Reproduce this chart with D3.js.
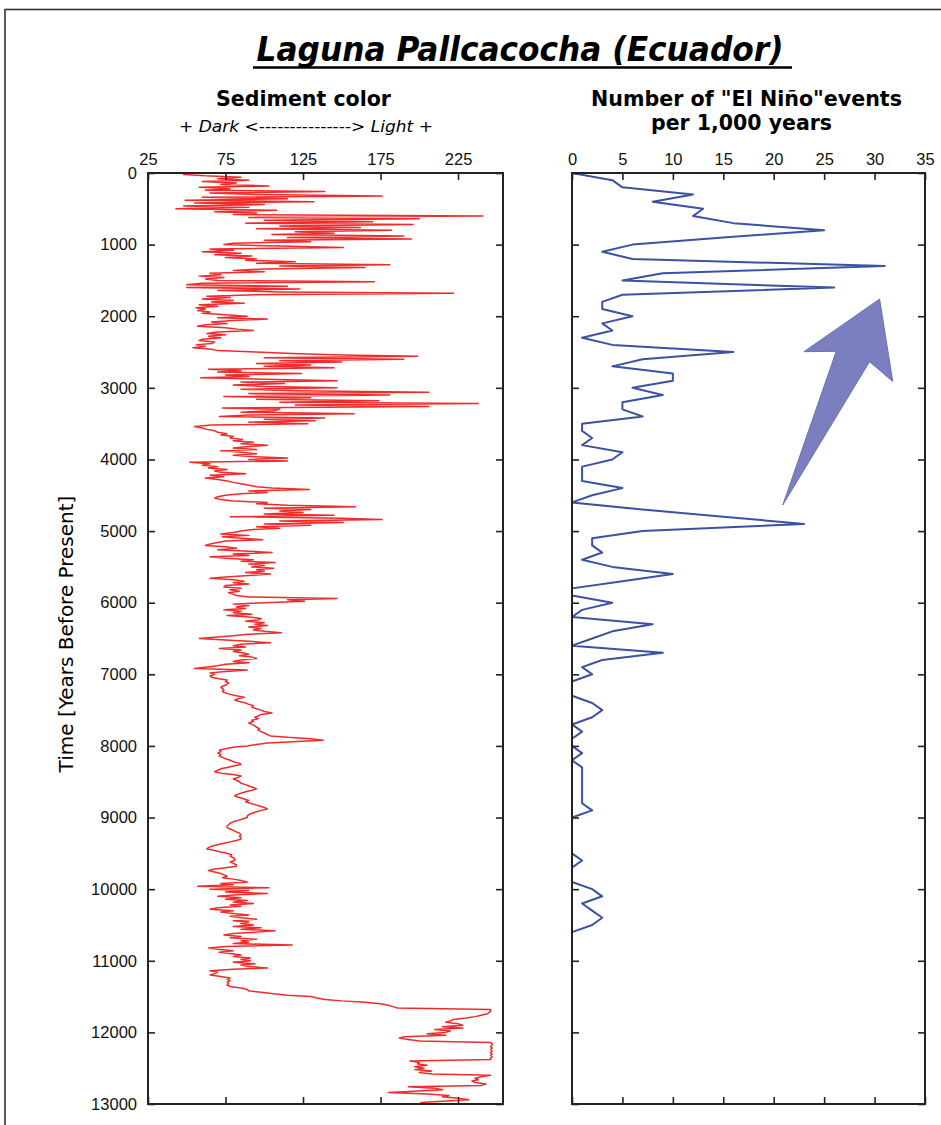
<!DOCTYPE html>
<html>
<head>
<meta charset="utf-8">
<script src="https://cdn.jsdelivr.net/npm/d3@7"></script>
<style>
  body { margin: 0; background: #fff; }
  .tick text { font-family: "Liberation Sans", Arial, sans-serif; font-size: 16.5px; fill: #111; }
  .tick line { stroke: #222; stroke-width: 1.6; }
  .head { font-family: "DejaVu Sans", sans-serif; fill: #000; }
</style>
</head>
<body>
<div id="main"></div>
<script>
// sediment colour sampled every 20 years, 0 .. 13000 BP
const sedimentYears = d3.range(0, 13001, 20);
const sedimentColor = [
  50,48,62,85,70,90,60,82,72,103, 58,78,62,139,65,95,176,60,115,49, 132,55,100,48,90,43,108,68,95,80, 241,90,200,100,170,88,196,110,162,95, 182,120,145,105,190,115,195,100,130,80,
  74,110,151,65,80,60,85,68,92,75, 95,88,120,95,181,110,165,100,80,100, 65,72,58,74,62,70,171,60,50,115, 50,123,70,110,222,95,63,78,60,80, 66,87,58,70,56,62,57,65,60,75,
  89,70,102,80,66,76,62,57,75,83, 93,70,63,75,64,72,60,58,68,66, 56,62,54,66,70,95,118,150,199,100, 190,110,150,95,130,100,145,64,85,70, 124,75,90,59,100,147,85,113,80,100,
  147,85,120,206,90,181,74,130,95,174, 110,238,120,206,73,110,106,85,158,90, 71,139,100,133,90,128,66,55,60,63, 68,70,76,72,80,78,86,80,93,85, 102,90,80,95,72,85,95,80,92,115,
  90,115,52,65,60,70,64,76,68,72, 88,65,74,62,70,76,80,85,90,95, 105,129,90,102,85,75,70,68,72,80, 102,95,115,159,100,130,110,125,100,145, 78,150,176,110,151,100,130,95,110,91,
  85,80,72,90,73,85,99,75,70,65, 62,75,82,70,90,105,80,90,65,75, 93,85,107,90,100,92,106,95,100,88, 104,90,75,65,80,87,80,90,75,74, 85,78,84,77,80,82,90,147,115,126,
  100,80,90,82,88,74,85,80,92,76, 90,98,96,88,100,94,102,90,98,93, 100,111,90,80,70,58,75,90,104,85, 80,88,71,85,80,86,90,84,92,95, 85,80,90,75,70,62,55,89,75,65,
  68,65,66,70,76,75,77,76,74,72, 73,74,73,75,78,82,87,83,81,84, 88,90,93,92,95,98,100,105,98,96, 94,96,92,93,90,92,94,95,97,96, 98,100,102,104,115,130,138,118,102,95,
  89,80,75,71,72,70,72,71,73,75, 78,80,84,85,80,76,72,70,68,72, 80,85,83,80,82,84,85,88,90,93, 95,92,88,85,82,81,84,87,90,88, 91,94,97,100,102,98,95,92,90,89,
  89,86,83,80,78,77,76,76,78,80, 82,84,85,84,85,85,82,78,74,70, 66,64,63,68,72,76,79,78,80,81, 81,78,80,82,82,75,68,64,68,72, 74,76,73,80,85,89,72,80,57,103,
  65,90,75,102,80,70,85,75,89,80, 93,78,85,70,65,80,72,80,90,78, 85,95,80,90,85,93,80,98,85,107, 95,80,74,85,78,95,85,90,80,118, 75,64,70,80,71,78,85,80,91,85,
  91,80,94,85,90,102,80,65,70,68, 65,72,78,76,78,76,77,76,78,85, 89,90,98,106,115,130,134,139,150,165, 175,180,183,186,246,246,245,244,240,236, 230,222,220,217,225,228,215,228,210,220,
  217,205,217,190,187,193,200,246,247,247, 246,247,246,247,246,247,246,247,246,246, 194,200,199,205,197,203,197,208,200,208, 246,240,236,238,234,236,243,240,193,210, 215,200,180,205,219,215,225,232,215,201,
  210
];

// El Nino events per 1,000 years, every 100 years
const ninoYears = d3.range(0, 13001, 100);
const ninoEvents = [
  0,4,5,12,8,13,12,16,25,15,
  6,3,6,31,9,5,26,5,3,3,
  6,3,4,1,4,16,7,4,10,10,
  6,9,5,5,7,1,1,2,1,5,
  4,1,1,1,5,2,0,7,15,23,
  7,2,2,3,1,4,10,5,0,0,
  4,1,0,8,4,2,0,9,3,1,
  2,0,0,0,2,3,2,0,1,0,
  0,1,0,1,1,1,1,1,1,2,
  0,0,0,0,0,0,1,0,0,0,
  2,3,1,2,3,2,0,0,0,0,
  0,0,0,0,0,0,0,0,0,0,
  0,0,0,0,0,0,0,0,0,0,
  0
];

const yearTicks = d3.range(0, 13001, 1000);
const colorTicks = [25, 75, 125, 175, 225];
const ninoTicks = [0, 5, 10, 15, 20, 25, 30, 35];

// arrow outline in (events, years)
const arrowOutline = [[30.5, 1760], [31.8, 2910], [29.5, 2635], [20.9, 4635], [26.2, 2490], [23.0, 2495]];

class Panel {
  constructor(svg, config) {
    this.svg = svg;
    this.config = config;
    this.g = svg.append('g');
    this.createScales();
  }

  createScales() {
    let c = this.config;
    this.xScale = d3.scaleLinear().domain(c.domain).range([c.left, c.right]);
    this.yScale = d3.scaleLinear().domain([0, 13000]).range([c.top, c.bottom]);
  }

  createAxis() {
    let c = this.config;
    let top = d3.axisTop(this.xScale).tickValues(c.ticks).tickSize(-7).tickSizeOuter(0).tickPadding(8);
    let bottom = d3.axisBottom(this.xScale).tickValues(c.ticks).tickSize(-7).tickSizeOuter(0).tickFormat('');
    let left = d3.axisLeft(this.yScale).tickValues(yearTicks).tickSize(-7).tickSizeOuter(0).tickPadding(11)
      .tickFormat(c.yLabels ? d3.format('d') : '');
    let right = d3.axisRight(this.yScale).tickValues(yearTicks).tickSize(-7).tickSizeOuter(0).tickFormat('');

    this.g.append('g').attr('transform', `translate(0,${c.top})`).call(top);
    this.g.append('g').attr('transform', `translate(0,${c.bottom})`).call(bottom);
    this.g.append('g').attr('transform', `translate(${c.left},0)`).call(left);
    this.g.append('g').attr('transform', `translate(${c.right},0)`).call(right);
    this.g.selectAll('.domain').remove();

    this.g.append('rect')
      .attr('x', c.left).attr('y', c.top)
      .attr('width', c.right - c.left).attr('height', c.bottom - c.top)
      .attr('fill', 'none').attr('stroke', '#222').attr('stroke-width', 2);
  }

  render(years, values, color, width) {
    let line = d3.line()
      .x(d => this.xScale(d[1]))
      .y(d => this.yScale(d[0]));
    this.g.insert('path', 'g')
      .datum(d3.zip(years, values))
      .attr('fill', 'none')
      .attr('stroke', color)
      .attr('stroke-width', width)
      .attr('stroke-linejoin', 'round')
      .attr('d', line);
  }

  arrow(points) {
    let shape = d3.line()
      .x(d => this.xScale(d[0]))
      .y(d => this.yScale(d[1]));
    this.g.append('path')
      .attr('d', shape(points) + 'Z')
      .attr('fill', '#7b7fbf')
      .attr('stroke', '#6c71b5')
      .attr('stroke-width', 1);
  }
}

function main() {
  let svg = d3.select('#main').append('svg')
    .attr('width', 941).attr('height', 1125);

  svg.append('rect').attr('width', 941).attr('height', 1125).attr('fill', '#fff');
  svg.append('rect')
    .attr('x', 5).attr('y', 9.5).attr('width', 1000).attr('height', 1300)
    .attr('fill', 'none').attr('stroke', '#333').attr('stroke-width', 1.6);

  // titles
  svg.append('text').attr('class', 'head')
    .attr('x', 520).attr('y', 61).attr('text-anchor', 'middle')
    .attr('font-size', 33).attr('font-weight', 'bold').attr('font-style', 'italic')
    .attr('textLength', 527).attr('lengthAdjust', 'spacingAndGlyphs')
    .text('Laguna Pallcacocha (Ecuador)');
  svg.append('line')
    .attr('x1', 253).attr('x2', 792).attr('y1', 67.5).attr('y2', 67.5)
    .attr('stroke', '#000').attr('stroke-width', 2.5);

  svg.append('text').attr('class', 'head')
    .attr('x', 303.5).attr('y', 106).attr('text-anchor', 'middle')
    .attr('font-size', 20.5).attr('font-weight', 'bold')
    .attr('textLength', 175).attr('lengthAdjust', 'spacingAndGlyphs')
    .text('Sediment color');

  let sub = svg.append('text').attr('class', 'head')
    .attr('x', 306).attr('y', 132).attr('text-anchor', 'middle')
    .attr('font-size', 16.5)
    .attr('textLength', 254).attr('lengthAdjust', 'spacingAndGlyphs');
  sub.append('tspan').text('+ ');
  sub.append('tspan').attr('font-style', 'italic').text('Dark');
  sub.append('tspan').text(' <---------------> ');
  sub.append('tspan').attr('font-style', 'italic').text('Light');
  sub.append('tspan').text(' +');

  svg.append('text').attr('class', 'head')
    .attr('x', 746.5).attr('y', 106).attr('text-anchor', 'middle')
    .attr('font-size', 20.5).attr('font-weight', 'bold')
    .attr('textLength', 311).attr('lengthAdjust', 'spacingAndGlyphs')
    .text('Number of "El Niño"events');
  svg.append('text').attr('class', 'head')
    .attr('x', 741.5).attr('y', 130).attr('text-anchor', 'middle')
    .attr('font-size', 20.5).attr('font-weight', 'bold')
    .attr('textLength', 181).attr('lengthAdjust', 'spacingAndGlyphs')
    .text('per 1,000 years');

  svg.append('text').attr('class', 'head')
    .attr('transform', 'translate(73,634) rotate(-90)')
    .attr('text-anchor', 'middle').attr('font-size', 20)
    .text('Time [Years Before Present]');

  let sediment = new Panel(svg, { left: 148, right: 503, top: 173, bottom: 1104, domain: [25, 254], ticks: colorTicks, yLabels: true });
  sediment.createAxis();
  sediment.render(sedimentYears, sedimentColor, '#ef2b2b', 1.5);

  let nino = new Panel(svg, { left: 572, right: 925, top: 173, bottom: 1104, domain: [0, 35], ticks: ninoTicks, yLabels: false });
  nino.createAxis();
  nino.render(ninoYears, ninoEvents, '#3b51a3', 2);
  nino.arrow(arrowOutline);
}

main();
</script>
</body>
</html>
